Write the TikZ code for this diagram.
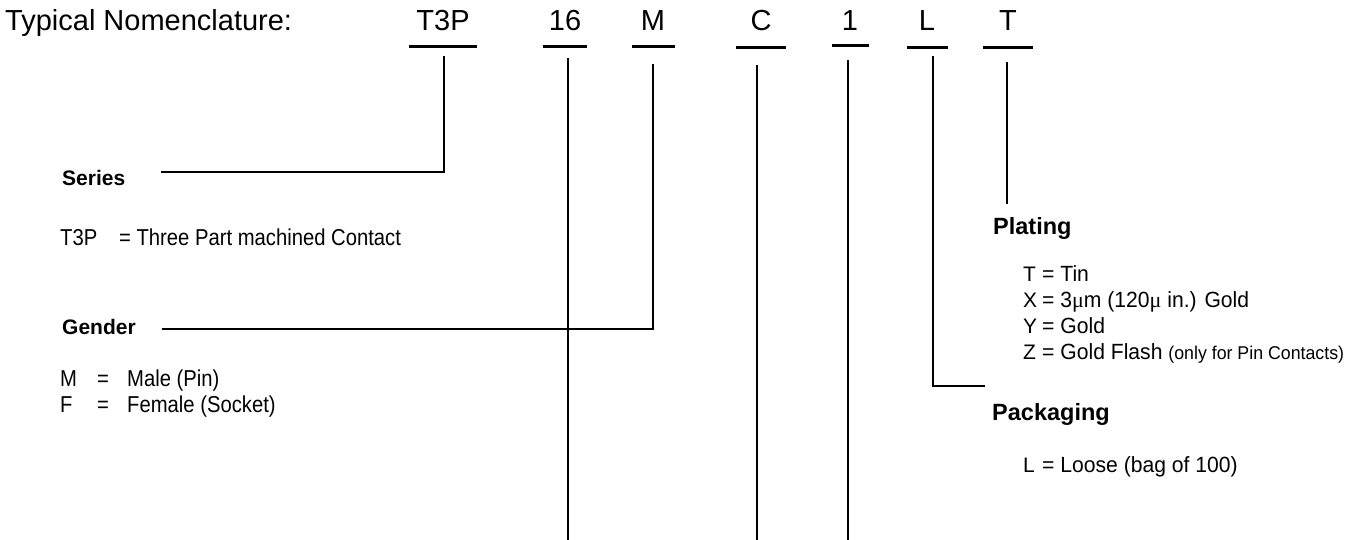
\documentclass[tikz,border=0pt]{standalone}
\usepackage{fontspec}
\setmainfont{Liberation Sans}
\newfontfamily\condf[FakeStretch=0.88]{Liberation Sans}
\newfontfamily\condr[FakeStretch=0.96]{Liberation Sans}
\newfontfamily\serifmu{Liberation Serif}
\begin{document}
\begin{tikzpicture}[x=1pt,y=1pt,
  code/.style={anchor=base,inner sep=0pt,font=\fontsize{29}{34}\selectfont},
  uline/.style={line width=3pt},
  lead/.style={line width=1.4pt},
  headl/.style={anchor=base west,inner sep=0pt,font=\fontsize{21}{25}\selectfont\bfseries},
  headr/.style={anchor=base west,inner sep=0pt,font=\fontsize{23.5}{28}\selectfont\bfseries},
  desc/.style={anchor=base west,inner sep=0pt,font=\condf\fontsize{23}{26}\selectfont},
  descr/.style={anchor=base west,inner sep=0pt,font=\condr\fontsize{22}{26}\selectfont},
  letter/.style={anchor=base west,inner sep=0pt,font=\fontsize{21}{26}\selectfont}]
\useasboundingbox[fill=white] (0,0) rectangle (1356,540);

% title and codes
\node[anchor=base west,inner sep=0pt,font=\fontsize{29}{34}\selectfont] (title) at (5,509) {Typical Nomenclature:};
\node[code] (cT3P) at (443,509) {T3P};
\node[code] (c16) at (565,509) {16};
\node[code] (cM) at (653,509) {M};
\node[code] (cC) at (761,509) {C};
\node[code] (c1) at (850,509) {1};
\node[code] (cL) at (927,509) {L};
\node[code] (cT) at (1008,509) {T};

% underlines
\draw[uline] (409,493) -- (477,493);
\draw[uline] (543,493) -- (587,493);
\draw[uline] (632,493) -- (675,493);
\draw[uline] (736,492) -- (786,492);
\draw[uline] (832,494) -- (869,494);
\draw[uline] (907,492) -- (948,492);
\draw[uline] (983,492) -- (1033,492);

% connector end points
\coordinate (t3pTop) at (444,484);
\coordinate (t3pCorner) at (444,368);
\coordinate (seriesEnd) at (161,368);
\coordinate (s16Top) at (568,482);
\coordinate (s16Bot) at (568,0);
\coordinate (mTop) at (653,476);
\coordinate (mCorner) at (653,211);
\coordinate (genderEnd) at (162,211);
\coordinate (cTop) at (757,475);
\coordinate (cBot) at (757,0);
\coordinate (oneTop) at (848,480);
\coordinate (oneBot) at (848,0);
\coordinate (lTop) at (933,484);
\coordinate (lCorner) at (933,154);
\coordinate (packEnd) at (985,154);
\coordinate (tTop) at (1007,478);
\coordinate (tBot) at (1007,336);

\draw[lead] (t3pTop) -- (t3pCorner) -- (seriesEnd);
\draw[lead] (s16Top) -- (s16Bot);
\draw[lead] (mTop) -- (mCorner) -- (genderEnd);
\draw[lead] (cTop) -- (cBot);
\draw[lead] (oneTop) -- (oneBot);
\draw[lead] (lTop) -- (lCorner) -- (packEnd);
\draw[lead] (tTop) -- (tBot);

% left block
\node[headl] (series) at (62,354) {Series};
\node[desc] (t3pk) at (60,294) {T3P};
\node[desc] (t3pv) at (119,294) {= Three Part machined Contact};
\node[headl] (gender) at (62,205) {Gender};
\node[desc] (mk) at (60,153) {M};
\node[desc] (meq) at (97,153) {=};
\node[desc] (mv) at (127,153) {Male (Pin)};
\node[desc] (fk) at (60,127) {F};
\node[desc] (feq) at (97,127) {=};
\node[desc] (fv) at (127,127) {Female (Socket)};

% right block
\node[headr] (plating) at (993,305) {Plating};
\node[letter] (pT) at (1023,258) {T};
\node[descr] (pTv) at (1042,258) {= Tin};
\node[letter] (pX) at (1023,232) {X};
\node[descr] (pXv) at (1042,232) {= 3{\serifmu μ}m (120{\serifmu μ} in.) Gold};
\node[letter] (pY) at (1023,206) {Y};
\node[descr] (pYv) at (1042,206) {= Gold};
\node[letter] (pZ) at (1023,180) {Z};
\node[descr] (pZv) at (1042,180) {= Gold Flash {\fontsize{18.5}{20}\selectfont (only for Pin Contacts)}};
\node[headr] (packaging) at (992,119) {Packaging};
\node[letter] (pL) at (1023,67) {L};
\node[descr] (pLv) at (1042,67) {= Loose (bag of 100)};
\end{tikzpicture}
\end{document}
